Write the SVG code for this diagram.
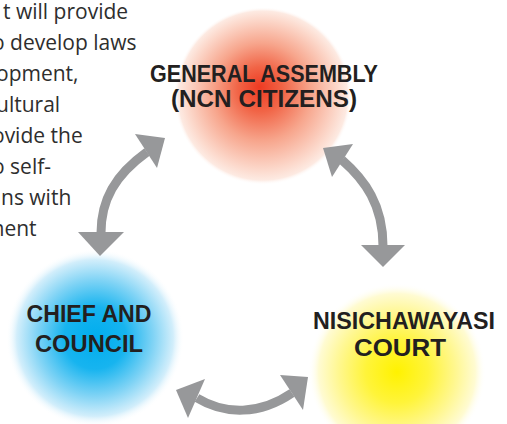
<svg xmlns="http://www.w3.org/2000/svg" width="507" height="424" viewBox="0 0 507 424">
  <style>
    .body { font-family: "Open Sans", "Liberation Sans", sans-serif; font-size: 21px; fill: #2e2e2e; }
    .title { font-family: "Liberation Sans", "DejaVu Sans", sans-serif; font-weight: 700; font-size: 23px; fill: #231f20; text-anchor: middle; }
    .shaft { fill: none; stroke: #97989a; stroke-width: 9; }
    .head { fill: #97989a; }
  </style>
  <defs>
    <radialGradient id="gRed" fx="0.48" fy="0.45">
      <stop offset="0" stop-color="#ee3a22"/>
      <stop offset="0.25" stop-color="#f16446"/>
      <stop offset="0.55" stop-color="#f7a58c"/>
      <stop offset="0.85" stop-color="#fcd9cc"/>
      <stop offset="0.95" stop-color="#fdeae2"/>
      <stop offset="1" stop-color="#ffffff" stop-opacity="0"/>
    </radialGradient>
    <radialGradient id="gBlue">
      <stop offset="0" stop-color="#00adee"/>
      <stop offset="0.35" stop-color="#17b4ef"/>
      <stop offset="0.65" stop-color="#7fd3f5"/>
      <stop offset="0.88" stop-color="#d2eefb"/>
      <stop offset="1" stop-color="#ffffff" stop-opacity="0"/>
    </radialGradient>
    <radialGradient id="gYellow">
      <stop offset="0" stop-color="#fff200"/>
      <stop offset="0.35" stop-color="#fff43a"/>
      <stop offset="0.65" stop-color="#fff78e"/>
      <stop offset="0.88" stop-color="#fffbd2"/>
      <stop offset="1" stop-color="#ffffff" stop-opacity="0"/>
    </radialGradient>
  </defs>

  <rect width="507" height="424" fill="#ffffff"/>

  <!-- running text at the left edge -->
  <g id="body-text" class="body">
    <text x="3" y="19">t will provide</text>
    <text x="-8" y="50">o develop laws</text>
    <text x="-4" y="81">opment,</text>
    <text x="-4" y="112">ultural</text>
    <text x="-8" y="143">ovide the</text>
    <text x="-8" y="174">o self-</text>
    <text x="1" y="205">ns with</text>
    <text x="-15" y="236">ment</text>
  </g>

  <g id="general-assembly">
    <circle cx="263" cy="96" r="89" fill="url(#gRed)"/>
    <text class="title" x="264" y="82" textLength="228" lengthAdjust="spacingAndGlyphs">GENERAL ASSEMBLY</text>
    <text class="title" x="264" y="107" textLength="186" lengthAdjust="spacingAndGlyphs">(NCN CITIZENS)</text>
  </g>

  <g id="chief-and-council">
    <circle cx="95" cy="338" r="89" fill="url(#gBlue)"/>
    <text class="title" x="89" y="322" textLength="125" lengthAdjust="spacingAndGlyphs">CHIEF AND</text>
    <text class="title" x="89" y="352" textLength="108" lengthAdjust="spacingAndGlyphs">COUNCIL</text>
  </g>

  <g id="nisichawayasi-court">
    <circle cx="397" cy="372" r="89" fill="url(#gYellow)"/>
    <text class="title" x="404" y="329" textLength="182" lengthAdjust="spacingAndGlyphs">NISICHAWAYASI</text>
    <text class="title" x="400" y="356" textLength="92" lengthAdjust="spacingAndGlyphs">COURT</text>
  </g>

  <!-- two-way arrows between the bodies -->
  <g id="connectors">
    <path class="shaft" d="M101,233 C101,200 115,175 147,152"/>
    <polygon class="head" points="135,134 165,138 157,168"/>
    <polygon class="head" points="78,232 124,232 100,256"/>

    <path class="shaft" d="M342,160 C365,180 383,205 383,246"/>
    <polygon class="head" points="353,144 323,148 332,177"/>
    <polygon class="head" points="361,245 405,245 383,267"/>

    <path class="shaft" d="M197,398 C225,415 260,415 292,393"/>
    <polygon class="head" points="205,379 188,418 176,390"/>
    <polygon class="head" points="280,375 303,410 308,377"/>
  </g>
</svg>
